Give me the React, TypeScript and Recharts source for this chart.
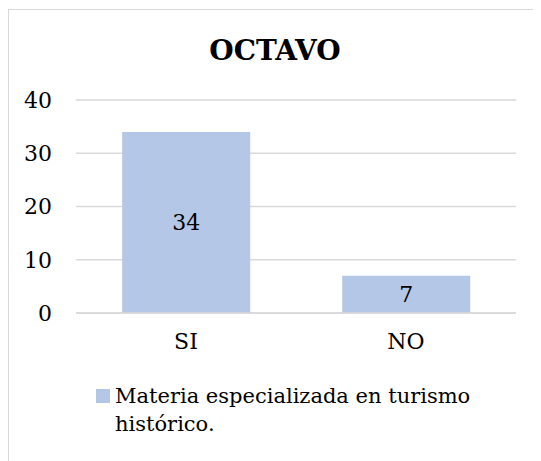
import { Bar, BarChart, CartesianGrid, LabelList, Legend, XAxis, YAxis } from "recharts";

const categories = ["SI", "NO"];
const values = [34, 7];
const yTicks = [0, 10, 20, 30, 40];
const seriesName = "Materia especializada en turismo histórico.";

const data = categories.map((c, i) => ({ name: c, value: values[i] }));

const font = "DejaVu Serif";

function LegendBox() {
  return (
    <div style={{ display: "flex", alignItems: "flex-start", fontFamily: font, fontSize: 21, lineHeight: "28px", color: "#000" }}>
      <span style={{ display: "inline-block", width: 14, height: 14, background: "#b4c7e7", marginTop: 7, marginRight: 5, flex: "none" }} />
      <span style={{ width: 360 }}>{seriesName}</span>
    </div>
  );
}

export default function App() {
  return (
    <div style={{ width: 532, height: 452, borderTop: "1px solid #d9d9d9", borderLeft: "1px solid #d9d9d9", marginTop: 1, position: "relative" }}>
      <div style={{ position: "absolute", top: 24, left: 0, width: 532, textAlign: "center", fontSize: 28, fontWeight: "bold", fontFamily: font, zIndex: 1 }}>
        OCTAVO
      </div>
      <BarChart width={532} height={452} data={data} margin={{ top: 90, right: 25, left: 17, bottom: 63 }} barCategoryGap="21%">
        <CartesianGrid vertical={false} stroke="#d9d9d9" strokeWidth={1.5} />
        <XAxis
          dataKey="name"
          axisLine={{ stroke: "#d9d9d9", strokeWidth: 1.5 }}
          tickLine={false}
          tickSize={0}
          tickMargin={20}
          tick={{ fill: "#000", fontSize: 22, fontFamily: font }}
        />
        <YAxis
          domain={[0, 40]}
          ticks={yTicks}
          width={50}
          axisLine={false}
          tickLine={false}
          tickSize={0}
          tickMargin={24}
          tick={{ fill: "#000", fontSize: 22, fontFamily: font }}
        />
        <Legend
          content={() => <LegendBox />}
          wrapperStyle={{ position: "absolute", left: 87, top: 372, width: 420 }}
        />
        <Bar dataKey="value" name={seriesName} fill="#b4c7e7" isAnimationActive={false}>
          <LabelList dataKey="value" position="center" fill="#000" fontSize={22} fontFamily={font} />
        </Bar>
      </BarChart>
    </div>
  );
}
